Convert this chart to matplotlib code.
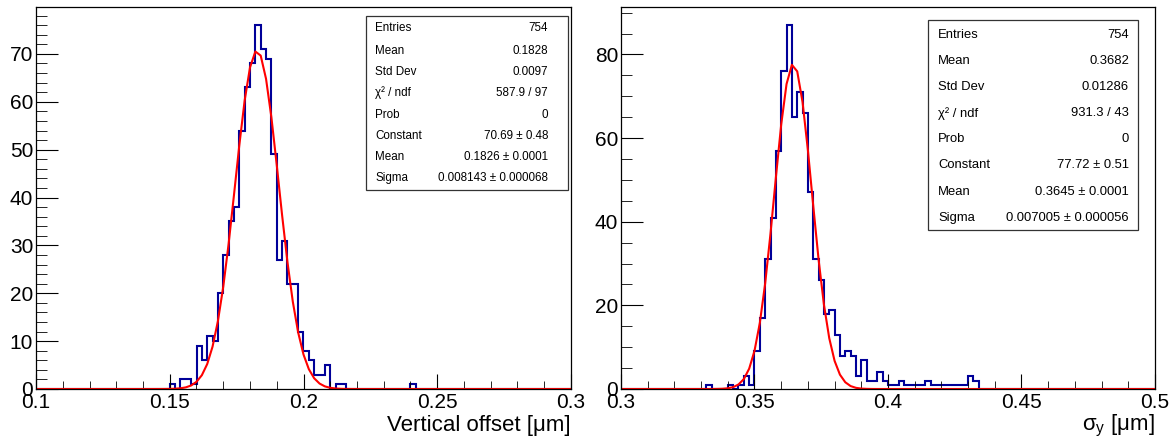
import matplotlib
matplotlib.use('Agg')
import matplotlib.pyplot as plt
from matplotlib.patches import Rectangle
import numpy as np

plt.rcParams['font.family'] = ['Liberation Sans', 'DejaVu Sans']
plt.rcParams['mathtext.fontset'] = 'custom'
plt.rcParams['mathtext.rm'] = 'Liberation Sans'

W, H = 1175, 441

# ---- data ----
# left: vertical offset, 100 bins 0.1 .. 0.3
left_range = (0.1, 0.3)
left_start = 0.150
left_counts = [1, 0, 2, 2, 1, 9, 6, 11, 10, 20, 28, 35, 38, 54, 63, 68, 76, 71, 69,
               49, 27, 31, 22, 22, 12, 8, 6, 3, 3, 5, 0, 1, 1]
left_extra_x = [0.241]
left_fit = (70.69, 0.1826, 0.008143)   # constant, mean, sigma
left_stats = [('Entries', '754'), ('Mean', '0.1828'), ('Std Dev', '0.0097'),
              ('χ² / ndf', '587.9 / 97'), ('Prob', '0'),
              ('Constant', '70.69 ± 0.48'), ('Mean', '0.1826 ± 0.0001'),
              ('Sigma', '0.008143 ± 0.000068')]

# right: sigma_y, 100 bins 0.3 .. 0.5
right_range = (0.3, 0.5)
right_start = 0.332
right_counts = [1, 0, 0, 0, 1, 0, 1, 3, 1, 9, 17, 31, 41, 57, 76, 87, 65, 71, 66,
                47, 31, 26, 18, 19, 13, 8, 9, 8, 3, 7, 2, 2, 4, 2, 1, 1, 2, 1, 1,
                1, 1, 2, 1, 1, 1, 1, 1, 1, 1, 3, 2]
right_fit = (77.72, 0.3645, 0.007005)
right_stats = [('Entries', '754'), ('Mean', '0.3682'), ('Std Dev', '0.01286'),
               ('χ² / ndf', '931.3 / 43'), ('Prob', '0'),
               ('Constant', '77.72 ± 0.51'), ('Mean', '0.3645 ± 0.0001'),
               ('Sigma', '0.007005 ± 0.000056')]

nbins = 100
hist_color = '#000099'


def fx(px):
    return px / W


def fy(py):
    return 1 - py / H


def fill_hist(rng, start, counts, extra=()):
    edges = np.linspace(rng[0], rng[1], nbins + 1)
    width = (rng[1] - rng[0]) / nbins
    h = np.zeros(nbins)
    i0 = int(round((start - rng[0]) / width))
    h[i0:i0 + len(counts)] = counts
    for x in extra:
        h[int((x - rng[0]) / width)] += 1
    return edges, h


def draw_panel(ax, rng, start, counts, fit, ymax, major_y, minor_y, extra=()):
    edges, h = fill_hist(rng, start, counts, extra)
    ax.stairs(h, edges, color=hist_color, lw=1.5, baseline=0)
    xs = np.linspace(rng[0], rng[1], nbins + 1)
    a, m, s = fit
    ax.plot(xs, a * np.exp(-0.5 * ((xs - m) / s) ** 2), color='red', lw=1.5)
    ax.set_xlim(rng)
    ax.set_ylim(0, ymax)
    ax.set_xticks(np.arange(rng[0], rng[1] + 1e-9, 0.05))
    ax.set_xticks(np.arange(rng[0], rng[1] + 1e-9, 0.01), minor=True)
    ax.set_xticklabels(['%g' % round(v, 2) for v in np.arange(rng[0], rng[1] + 1e-9, 0.05)])
    ax.set_yticks(np.arange(0, ymax, major_y))
    ax.set_yticks(np.arange(0, ymax, minor_y), minor=True)
    ax.tick_params(axis='both', which='both', direction='in', labelsize=15,
                   top=False, right=False)
    ax.tick_params(axis='x', which='major', length=11, pad=3)
    ax.tick_params(axis='x', which='minor', length=5.5)
    ax.tick_params(axis='y', which='major', length=16, pad=2)
    ax.tick_params(axis='y', which='minor', length=8)
    for sp in ax.spines.values():
        sp.set_linewidth(0.9)


def draw_stats(fig, rows, box, ys, xl, xr, size):
    x0, y0, x1, y1 = box
    fig.add_artist(Rectangle((fx(x0), fy(y1)), fx(x1) - fx(x0), fy(y0) - fy(y1),
                             transform=fig.transFigure, facecolor='white',
                             edgecolor='#333333', lw=0.9))
    for (lab, val), y in zip(rows, ys):
        fig.text(fx(xl), fy(y), lab, ha='left', va='center', fontsize=size)
        fig.text(fx(xr), fy(y), val, ha='right', va='center', fontsize=size)


fig = plt.figure(figsize=(W / 100, H / 100), dpi=100)
ax1 = fig.add_axes([fx(36), fy(389), fx(571) - fx(36), fy(7) - fy(389)])
ax2 = fig.add_axes([fx(621), fy(389), fx(1155) - fx(621), fy(7) - fy(389)])

draw_panel(ax1, left_range, left_start, left_counts, left_fit, 79.8, 10, 2, left_extra_x)
draw_panel(ax2, right_range, right_start, right_counts, right_fit, 91.35, 20, 5)

fig.text(fx(571), fy(426), 'Vertical offset [μm]', ha='right', va='center', fontsize=16)
fig.text(fx(1155), fy(426), 'σ$_\\mathregular{y}$ [μm]', ha='right', va='center', fontsize=16)

draw_stats(fig, left_stats, (366, 16, 568, 190),
           [28.3, 50.7, 71.7, 92.7, 114.5, 135.5, 156.7, 178.3], 375, 548, 8.4)
draw_stats(fig, right_stats, (928, 20, 1138, 230),
           [35, 61.3, 87.3, 113.3, 139.5, 165.5, 191.7, 218], 938, 1129, 9.4)

fig.savefig('out.png', dpi=100)
